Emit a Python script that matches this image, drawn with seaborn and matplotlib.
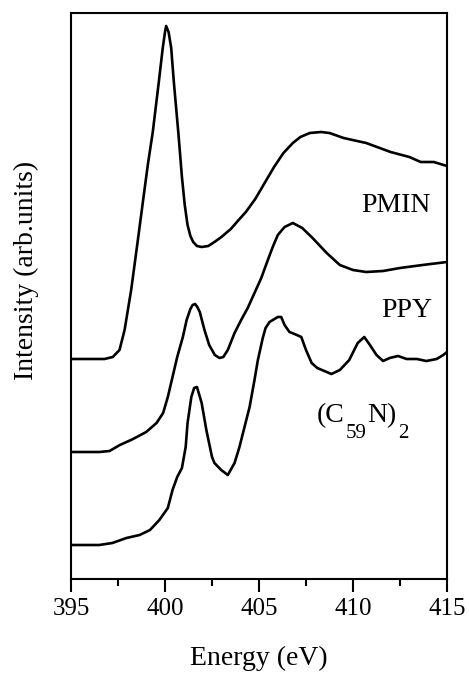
import numpy as np
import pandas as pd
import matplotlib
matplotlib.use('Agg')
import matplotlib.pyplot as plt
import seaborn as sns

# N K-edge spectra (energy in eV, intensity in arb. units incl. offset)
pmin_energy = [395.0, 396.78, 397.22, 397.58, 397.85, 398.2, 398.55, 398.9, 399.1, 399.35,
               399.67, 399.88, 400.0, 400.06, 400.19, 400.33, 400.47, 400.72, 400.9, 401.05,
               401.2, 401.35, 401.5, 401.7, 401.95, 402.3, 402.63, 403.0, 403.5, 403.87,
               404.3, 404.8, 405.3, 405.8, 406.3, 406.8, 407.2, 407.7, 408.3, 408.75,
               409.5, 410.7, 412.0, 413.0, 413.6, 414.3, 415.0]
pmin_intensity = [220, 220, 222, 229, 249, 289, 338, 388, 416, 447,
                  497, 531, 547, 553, 547, 531, 497, 444, 402, 374,
                  354, 343, 337, 333, 332, 333, 337, 342, 350, 358,
                  367, 380, 396, 412, 426, 436, 442, 446, 447, 446,
                  441, 436, 427, 422, 417, 417, 413]

ppy_energy = [395.0, 396.5, 397.05, 397.6, 398.3, 399.0, 399.55, 399.9, 400.15, 400.4,
              400.65, 400.95, 401.15, 401.35, 401.47, 401.6, 401.72, 401.85, 402.1, 402.35,
              402.65, 402.9, 403.1, 403.34, 403.7, 404.05, 404.4, 404.76, 405.12, 405.47,
              405.73, 406.0, 406.36, 406.8, 407.3, 407.85, 408.6, 409.3, 410.0, 410.7,
              411.6, 412.5, 413.7, 415.0]
ppy_intensity = [127, 127, 128, 134, 140, 147, 156, 166, 182, 202,
                 222, 242, 259, 270, 274, 275, 272, 267, 249, 234,
                 224, 221, 222, 229, 246, 259, 271, 286, 301, 319,
                 332, 344, 352, 356, 351, 341, 326, 314, 309, 307,
                 308, 311, 314, 317]

c59n_energy = [395.0, 396.5, 397.2, 397.95, 398.65, 399.2, 399.7, 400.15, 400.4, 400.65,
               400.9, 401.1, 401.2, 401.4, 401.55, 401.7, 401.95, 402.2, 402.5, 402.63,
               402.99, 403.34, 403.7, 403.96, 404.23, 404.5, 404.76, 404.94, 405.2, 405.35,
               405.56, 406.0, 406.18, 406.36, 406.62, 406.89, 407.25, 407.5, 407.8, 408.1,
               408.6, 408.85, 409.3, 409.8, 410.25, 410.6, 410.9, 411.25, 411.6, 411.95,
               412.4, 412.85, 413.4, 413.9, 414.45, 414.8, 415.0]
c59n_intensity = [34, 34, 36, 41, 44, 49, 59, 71, 89, 102,
                  111, 132, 156, 182, 191, 192, 176, 149, 122, 116,
                  109, 104, 116, 132, 152, 172, 199, 219, 241, 251,
                  257, 262, 262, 254, 247, 245, 242, 229, 216, 211,
                  207, 205, 209, 219, 236, 242, 234, 224, 218, 221,
                  223, 220, 220, 218, 220, 224, 227]

df = pd.concat([
    pd.DataFrame({'energy': pmin_energy, 'intensity': pmin_intensity, 'sample': 'PMIN'}),
    pd.DataFrame({'energy': ppy_energy, 'intensity': ppy_intensity, 'sample': 'PPY'}),
    pd.DataFrame({'energy': c59n_energy, 'intensity': c59n_intensity, 'sample': 'C59N2'}),
], ignore_index=True)

sns.set_theme(style='ticks')
plt.rcParams['font.family'] = ['Liberation Serif', 'DejaVu Serif']
plt.rcParams['text.color'] = 'black'
plt.rcParams['axes.labelcolor'] = 'black'
plt.rcParams['xtick.color'] = 'black'

fig = plt.figure(figsize=(4.69, 6.74), dpi=100)
ax = fig.add_axes([71 / 469, 95 / 674, 376 / 469, 566 / 674])

sns.lineplot(data=df, x='energy', y='intensity', units='sample', estimator=None,
             sort=False, color='black', linewidth=1.9, ax=ax)
for ln in ax.lines:
    ln.set_solid_joinstyle('round')

ax.set_xlim(395, 415)
ax.set_ylim(0, 566)
ax.set_xticks([395, 400, 405, 410, 415])
ax.set_xticks(np.arange(395, 415.1, 2.5), minor=True)
ax.set_yticks([])
ax.tick_params(axis='x', which='major', direction='out', length=9, width=1.5,
               labelsize=18, pad=5)
ax.tick_params(axis='x', which='minor', direction='out', length=5, width=1.5)
for sp in ax.spines.values():
    sp.set_visible(True)
    sp.set_linewidth(1.5)
    sp.set_color('black')

ax.set_xlabel('Energy (eV)', fontsize=20, labelpad=18)
ax.set_ylabel('Intensity (arb.units)', fontsize=20)
ax.yaxis.set_label_coords(-0.085, 0.546)

ax.text(412.26, 367, 'PMIN', fontsize=20, ha='center', va='baseline')
ax.text(412.85, 262, 'PPY', fontsize=20, ha='center', va='baseline')

# (C59N)2 with large, low subscripts
t1 = ax.text(408.06, 157, '(C', fontsize=20, ha='left', va='baseline')
t2 = ax.annotate('59', xy=(1, 0), xycoords=t1, xytext=(1.2, -11), textcoords='offset points',
                 fontsize=15, ha='left', va='bottom')
t3 = ax.annotate('N)', xy=(1, 0), xycoords=t2, xytext=(0.3, 11), textcoords='offset points',
                 fontsize=20, ha='left', va='bottom')
ax.annotate('2', xy=(1, 0), xycoords=t3, xytext=(1.5, -11), textcoords='offset points',
            fontsize=15, ha='left', va='bottom')

fig.savefig('out.png', dpi=100)
